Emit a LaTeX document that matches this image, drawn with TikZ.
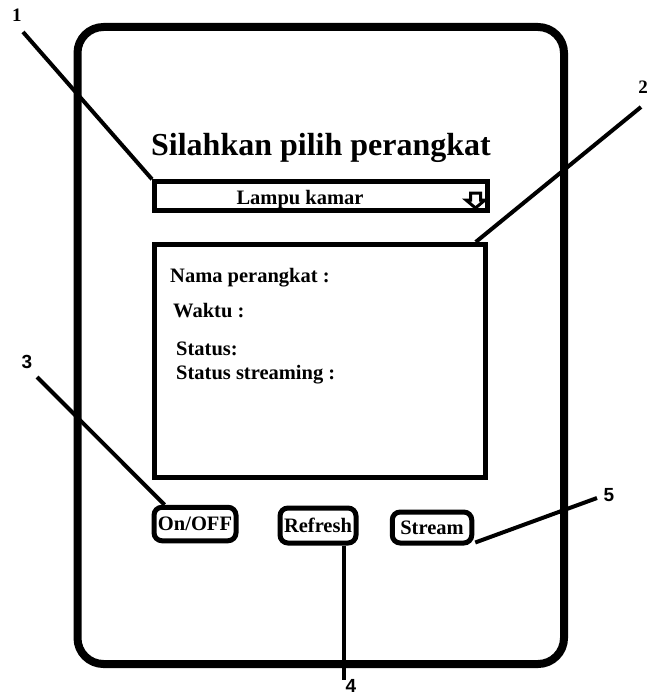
\documentclass[tikz,border=0pt]{standalone}
\usepackage{fontspec}
\setmainfont{Liberation Serif}
\newfontfamily\numsans{Liberation Sans}
\usepackage{tikz}
\usetikzlibrary{positioning}
\tikzset{frame/.style={draw, line width=8pt, rounded corners=26pt, inner sep=0pt}}
\tikzset{panel/.style={draw, line width=5pt, inner sep=0pt}}
\tikzset{button/.style={draw, line width=5pt, rounded corners=8pt, inner sep=0pt, font=\fontsize{20.5}{24}\selectfont\bfseries}}
\tikzset{leader/.style={line width=4pt}}
\tikzset{callout/.style={inner sep=0pt, font=\fontsize{19}{22}\selectfont\bfseries}}
\tikzset{field/.style={inner sep=0pt, anchor=base west, font=\fontsize{20.5}{24}\selectfont\bfseries}}

\begin{document}
\begin{tikzpicture}[x=1pt, y=-1pt]
\useasboundingbox (0,0) rectangle (650,695);
% phone frame
\node[frame, minimum width=486.5pt, minimum height=637pt] (phone) at (320.75,345.5) {};
\node[anchor=base, inner sep=0pt, font=\fontsize{32}{36}\selectfont\bfseries] (title) at (321,156) {Silahkan pilih perangkat};
% device list
\node[panel, minimum width=333pt, minimum height=28.5pt] (dropdown) at (321,196) {};
\node[anchor=base, inner sep=0pt, font=\fontsize{20.5}{24}\selectfont\bfseries] (device) at (300,204) {Lampu kamar};
\draw[line width=3pt, line join=miter, shift={(dropdown.east)}]
  (-19.5,-3) -- (-19.5,4) -- (-24,4) -- (-14.5,12) -- (-5,4) -- (-9.5,4) -- (-9.5,-3) -- cycle;
% info panel
\node[panel, minimum width=330.5pt, minimum height=233pt] (info) at (320,361) {};
\node[field] (nama) at (170,282) {Nama perangkat :};
\node[field] (waktu) at (173,317) {Waktu :};
\node[field] (status) at (176,355) {Status:};
\node[field] (stream status) at (176,379) {Status streaming :};
% buttons
\node[button, minimum width=82pt, minimum height=33.5pt] (onoff) at (195,524) {On/OFF};
\node[button, minimum width=76pt, minimum height=35pt] (refresh) at (318,525.5) {Refresh};
\node[button, minimum width=79.5pt, minimum height=31pt] (stream) at (432,527.5) {Stream};
% callouts
\coordinate (c1) at (23,32);
\coordinate (c2) at (641,107);
\coordinate (c3) at (37,377);
\coordinate (c4) at (344,680);
\coordinate (c5) at (597,498);
\node[callout] (n1) at (17,15) {1};
\node[callout] (n2) at (643,87) {2};
\node[callout, font=\fontsize{19}{22}\selectfont\numsans\bfseries] (n3) at (27,362) {3};
\node[callout, font=\fontsize{19}{22}\selectfont\numsans\bfseries] (n4) at (351,686) {4};
\node[callout, font=\fontsize{19}{22}\selectfont\numsans\bfseries] (n5) at (609,495) {5};
\draw[leader] (c1) -- (dropdown.north west);
\draw[leader] (c2) -- ([xshift=-12pt]info.north east);
\draw[leader] (c3) -- ([xshift=13pt]onoff.north west);
\draw[leader] ([xshift=26pt]refresh.south) -- (c4);
\draw[leader] (c5) -- ([xshift=1pt,yshift=3pt]stream.south east);
\end{tikzpicture}
\end{document}
